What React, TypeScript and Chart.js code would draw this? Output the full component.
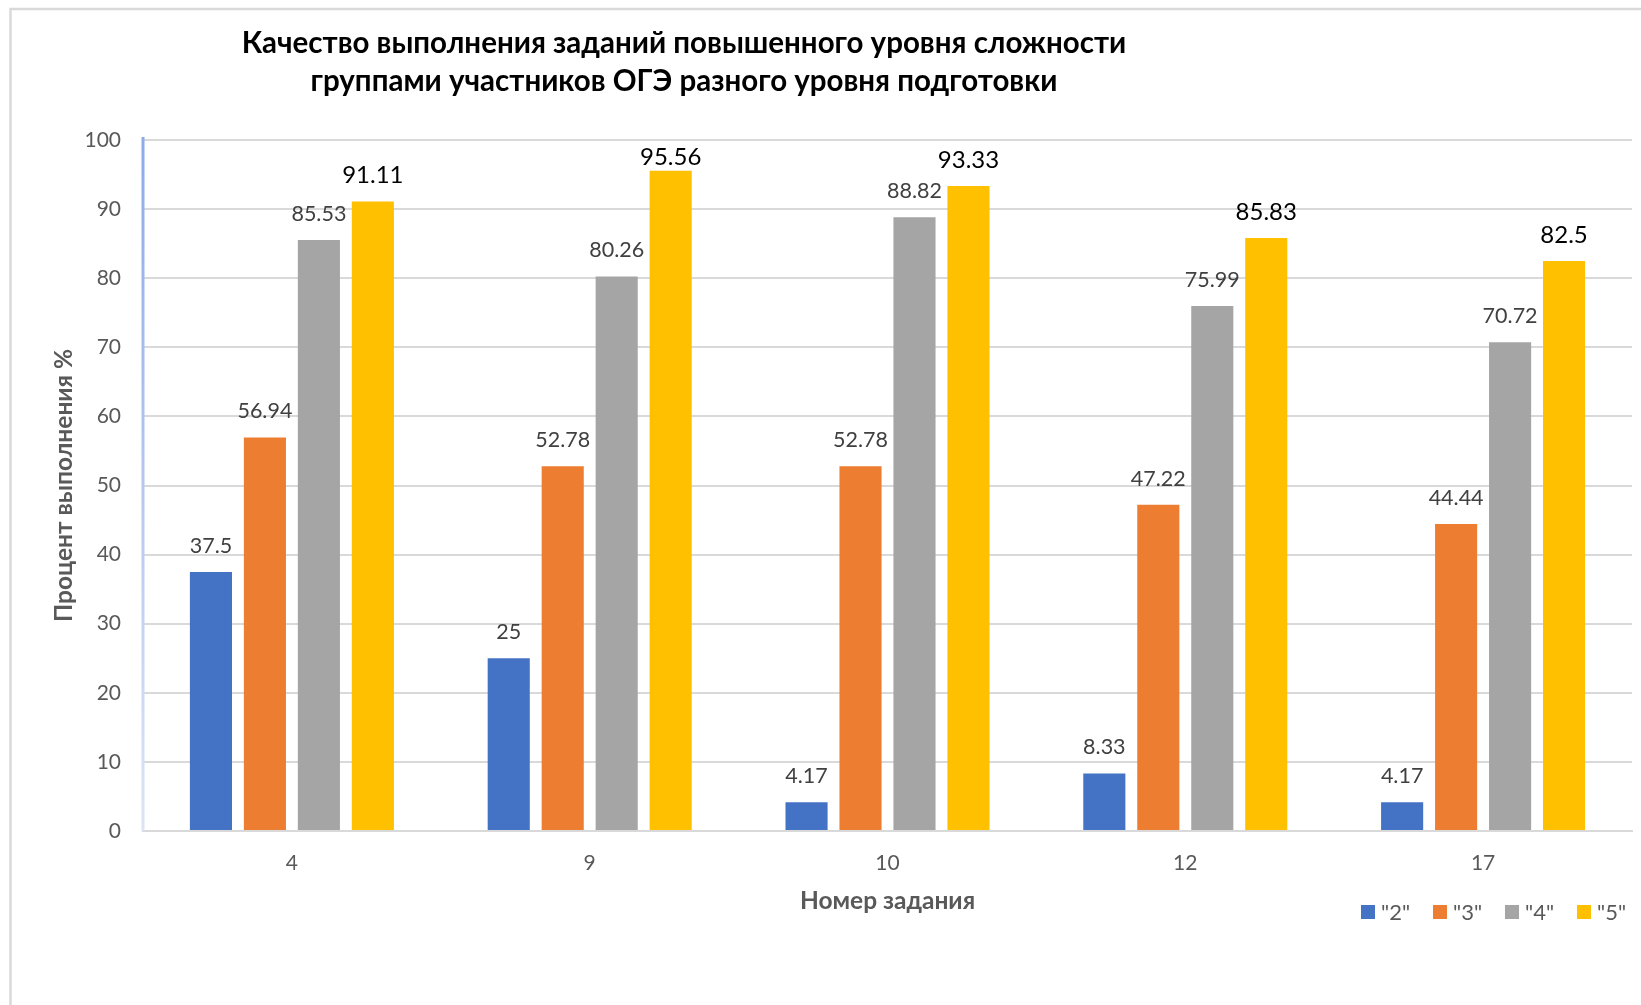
import React, { useEffect, useRef } from "react";
import { Chart, registerables } from "chart.js";

Chart.register(...registerables);

const categories = ["4", "9", "10", "12", "17"];
const seriesNames = ['"2"', '"3"', '"4"', '"5"'];
const grade2 = [37.5, 25, 4.17, 8.33, 4.17];
const grade3 = [56.94, 52.78, 52.78, 47.22, 44.44];
const grade4 = [85.53, 80.26, 88.82, 75.99, 70.72];
const grade5 = [91.11, 95.56, 93.33, 85.83, 82.5];
const seriesColors = ["#4472C4", "#ED7D31", "#A5A5A5", "#FFC000"];
const titleLines = [
  "Качество выполнения заданий повышенного уровня сложности",
  "группами участников ОГЭ разного уровня подготовки",
];
const xTitle = "Номер задания";
const yTitle = "Процент выполнения %";

const FONT = "Lato, 'Open Sans', sans-serif";

const decorPlugin = {
  id: "decor",
  beforeDraw(chart: any) {
    const ctx = chart.ctx;
    ctx.save();
    ctx.fillStyle = "#ffffff";
    ctx.fillRect(0, 0, chart.width, chart.height);
    ctx.strokeStyle = "#d9d9d9";
    ctx.lineWidth = 2.5;
    ctx.beginPath();
    ctx.moveTo(10.5, chart.height);
    ctx.lineTo(10.5, 9);
    ctx.lineTo(chart.width, 9);
    ctx.stroke();
    ctx.restore();
  },
  afterDraw(chart: any) {
    const ctx = chart.ctx;
    const ca = chart.chartArea;
    ctx.save();
    // title
    ctx.fillStyle = "#000000";
    ctx.font = `bold 29.5px ${FONT}`;
    ctx.textAlign = "center";
    ctx.textBaseline = "middle";
    ctx.fillText(titleLines[0], 684, 43);
    ctx.fillText(titleLines[1], 684, 81);
    // y axis line with gradient
    const g = ctx.createLinearGradient(0, ca.top, 0, ca.bottom);
    g.addColorStop(0, "#8eaaea");
    g.addColorStop(1, "#dde4f5");
    ctx.strokeStyle = g;
    ctx.lineWidth = 3;
    ctx.beginPath();
    ctx.moveTo(ca.left, ca.top - 3);
    ctx.lineTo(ca.left, ca.bottom);
    ctx.stroke();
    // legend
    const ds = chart.data.datasets;
    ctx.font = `22px ${FONT}`;
    ctx.textAlign = "left";
    ctx.textBaseline = "middle";
    const ly = 912;
    ds.forEach((d: any, i: number) => {
      const x = 1361 + i * 72;
      ctx.fillStyle = d.backgroundColor;
      ctx.fillRect(x, ly - 7, 14, 14);
      ctx.fillStyle = "#595959";
      ctx.fillText(d.label, x + 20, ly + 1);
    });
    ctx.restore();
  },
  afterDatasetsDraw(chart: any) {
    const ctx = chart.ctx;
    const ca = chart.chartArea;
    ctx.save();
    ctx.textAlign = "center";
    ctx.textBaseline = "middle";
    chart.data.datasets.forEach((d: any, di: number) => {
      const meta = chart.getDatasetMeta(di);
      const last = di === chart.data.datasets.length - 1;
      ctx.font = last ? `24px ${FONT}` : `21.5px ${FONT}`;
      ctx.fillStyle = last ? "#000000" : "#404040";
      meta.data.forEach((bar: any, i: number) => {
        const y = Math.max(bar.y - 26, ca.top + 17);
        ctx.fillText(String(d.data[i]), bar.x, y);
      });
    });
    ctx.restore();
  },
};

export default function App() {
  const ref = useRef<HTMLCanvasElement | null>(null);
  useEffect(() => {
    if (!ref.current) return;
    const data = [grade2, grade3, grade4, grade5];
    const chart = new Chart(ref.current, {
      type: "bar",
      data: {
        labels: categories,
        datasets: data.map((vals, i) => ({
          label: seriesNames[i],
          data: vals,
          backgroundColor: seriesColors[i],
          borderWidth: 0,
          categoryPercentage: 0.725,
          barPercentage: 0.78,
        })),
      },
      options: {
        animation: false,
        responsive: false,
        devicePixelRatio: 1,
        layout: { padding: { left: 0, right: 9, top: 140, bottom: 89 } },
        plugins: {
          legend: { display: false },
          title: { display: false },
          tooltip: { enabled: false },
        },
        scales: {
          x: {
            grid: { display: false, drawTicks: false },
            border: { display: true, color: "#d9d9d9", width: 2 },
            ticks: {
              color: "#595959",
              font: { family: FONT, size: 21 },
              padding: 20,
            },
            title: {
              display: true,
              text: xTitle,
              color: "#595959",
              font: { family: FONT, size: 24.5, weight: "bold" },
              padding: { top: 0, bottom: 0 },
            },
            afterFit(scale: any) {
              scale.height = 85;
            },
          },
          y: {
            min: 0,
            max: 100,
            ticks: {
              stepSize: 10,
              color: "#595959",
              font: { family: FONT, size: 21 },
              padding: 22,
            },
            grid: { color: "#d9d9d9", lineWidth: 2, drawTicks: false },
            border: { display: false },
            title: {
              display: true,
              text: yTitle,
              color: "#595959",
              font: { family: FONT, size: 24.5, weight: "bold" },
              padding: { top: 49, bottom: 0 },
            },
            afterFit(scale: any) {
              scale.width = 143;
            },
          },
        },
      },
      plugins: [decorPlugin],
    });
    return () => chart.destroy();
  }, []);
  return (
    <div
      style={{
        position: "fixed",
        left: 0,
        top: 0,
        width: 1641,
        height: 1005,
        background: "#ffffff",
      }}
    >
      <canvas
        ref={ref}
        width={1641}
        height={1005}
        style={{ width: 1641, height: 1005, display: "block" }}
      />
    </div>
  );
}
